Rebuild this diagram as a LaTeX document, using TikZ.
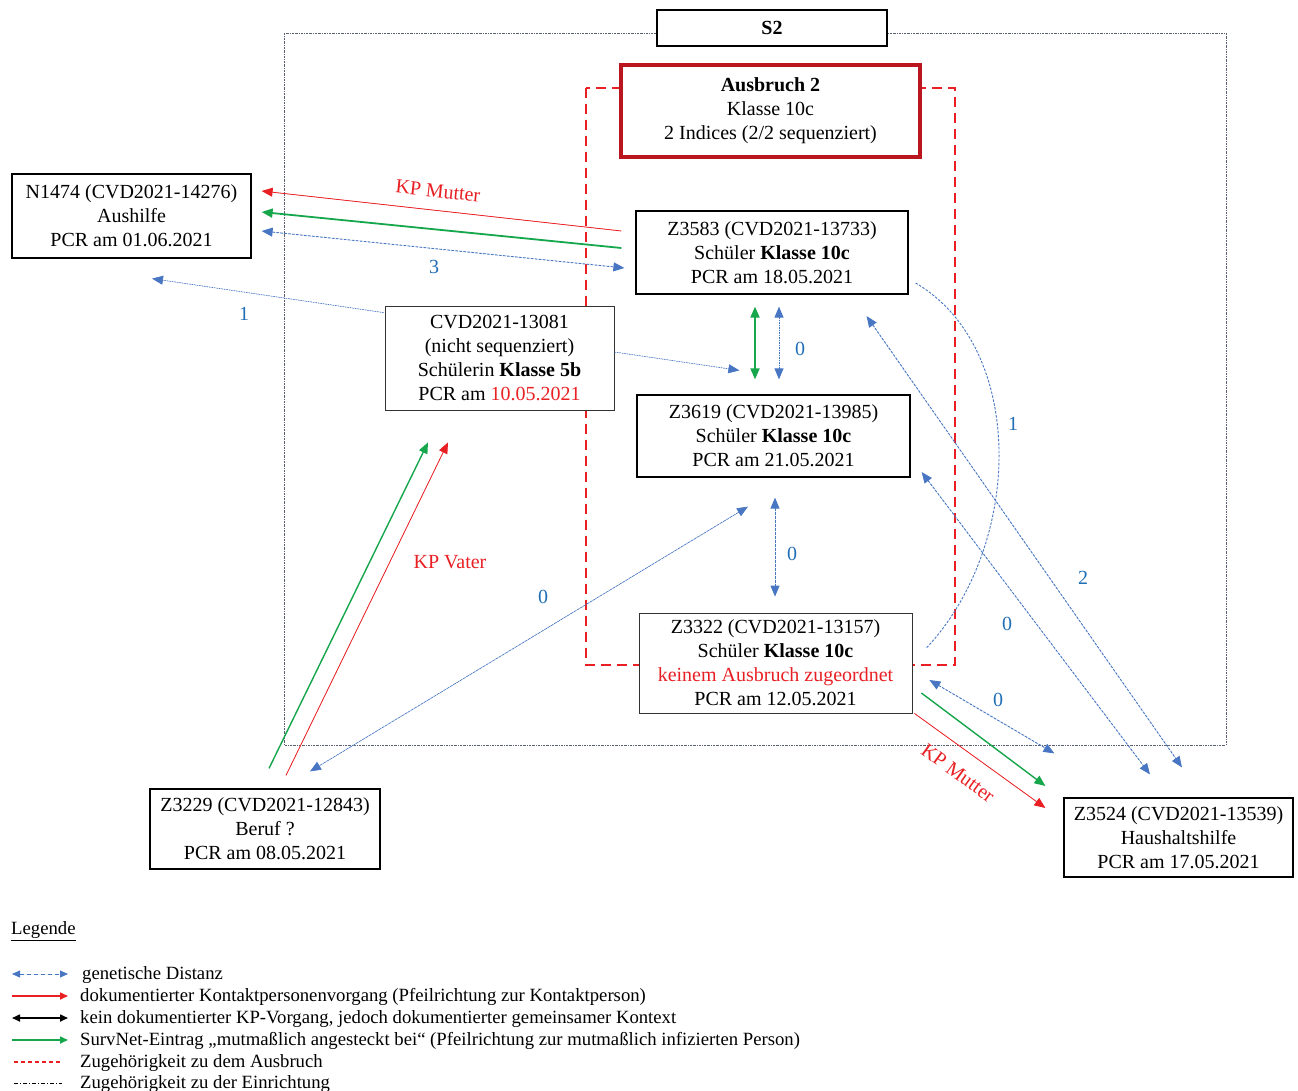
\documentclass[tikz,border=0pt]{standalone}
\usepackage{fontspec}
\setmainfont{Liberation Serif}
\usetikzlibrary{arrows.meta,calc}

\definecolor{kpred}{RGB}{232,32,36}
\definecolor{svgreen}{RGB}{22,166,76}
\definecolor{gdblue}{RGB}{72,118,194}
\definecolor{numblue}{RGB}{32,110,182}
\definecolor{obred}{RGB}{186,22,32}
\definecolor{framegray}{RGB}{90,95,115}

\tikzset{
  casebox/.style={draw=black, line width=1.2pt, fill=white, align=center, inner sep=0pt,
    font=\fontsize{20}{24}\selectfont},
  thinbox/.style={casebox, draw=black!80, line width=0.8pt},
  tip/.style={-{Triangle[length=11pt,width=9pt]}},
  tips/.style={{Triangle[length=11pt,width=9pt]}-{Triangle[length=11pt,width=9pt]}},
  gdist/.style={draw=gdblue, line width=0.9pt, dash pattern=on 2.5pt off 1.5pt, tips, fill=gdblue},
  gdone/.style={draw=gdblue, line width=0.9pt, dash pattern=on 2.5pt off 1.5pt, tip, fill=gdblue},
  kparrow/.style={draw=kpred, line width=0.8pt, tip, fill=kpred},
  svarrow/.style={draw=svgreen, line width=1.8pt, tip, fill=svgreen},
  numlabel/.style={text=numblue, font=\fontsize{20}{24}\selectfont},
  redlabel/.style={text=kpred, font=\fontsize{20}{24}\selectfont},
  legtext/.style={anchor=west, inner sep=0pt, font=\fontsize{18.7}{22}\selectfont},
  legtip/.tip={Triangle[length=8pt,width=7pt]},
}

\begin{document}
\begin{tikzpicture}[x=1pt,y=-1pt]
\useasboundingbox (0,0) rectangle (1298,1091);

% facility frame and outbreak frame
\draw[framegray, line width=0.7pt, dash pattern=on 2pt off 1pt on 0.6pt off 1pt] (284,33) rectangle (1226,745);
\draw[kpred, line width=1.6pt, dash pattern=on 10pt off 6pt] (586,88) rectangle (955,665);

% header boxes
\node[casebox, minimum width=230pt, minimum height=36pt, font=\fontsize{20}{24}\selectfont\bfseries] (s2) at (772,28) {S2};
\node[casebox, draw=obred, line width=3.2pt, minimum width=299pt, minimum height=92pt] (ausbruch) at (770.5,111)
  {\textbf{Ausbruch 2}\\Klasse 10c\\2 Indices (2/2 sequenziert)};

% case boxes
\node[casebox, minimum width=239pt, minimum height=84pt] (n1474) at (131.5,216)
  {N1474 (CVD2021-14276)\\Aushilfe\\PCR am 01.06.2021};
\node[casebox, minimum width=272pt, minimum height=83pt] (z3583) at (772,252.5)
  {Z3583 (CVD2021-13733)\\Schüler \textbf{Klasse 10c}\\PCR am 18.05.2021};
\node[thinbox, minimum width=229pt, minimum height=104pt] (c13081) at (499.5,358)
  {CVD2021-13081\\(nicht sequenziert)\\Schülerin \textbf{Klasse 5b}\\PCR am \textcolor{kpred}{10.05.2021}};
\node[casebox, minimum width=273pt, minimum height=82pt] (z3619) at (773.5,436)
  {Z3619 (CVD2021-13985)\\Schüler \textbf{Klasse 10c}\\PCR am 21.05.2021};
\node[thinbox, minimum width=273pt, minimum height=100pt] (z3322) at (775.5,663)
  {Z3322 (CVD2021-13157)\\Schüler \textbf{Klasse 10c}\\\textcolor{kpred}{keinem Ausbruch zugeordnet}\\PCR am 12.05.2021};
\node[casebox, minimum width=230pt, minimum height=80pt] (z3229) at (265,829)
  {Z3229 (CVD2021-12843)\\Beruf ?\\PCR am 08.05.2021};
\node[casebox, minimum width=229pt, minimum height=79pt] (z3524) at (1178.5,837.5)
  {Z3524 (CVD2021-13539)\\Haushaltshilfe\\PCR am 17.05.2021};

% Z3583 <-> N1474
\draw[kparrow] ($(z3583.west)+(-14,-21.5)$) -- ($(n1474.east)+(10,-25)$);
\draw[svarrow] ($(z3583.west)+(-14,-4.5)$) -- ($(n1474.east)+(10,-4)$);
\draw[gdist] ($(n1474.east)+(10,15)$) -- ($(z3583.west)+(-11,15.5)$);
\node[redlabel, rotate=-6] (lkpm1) at (438,191) {KP Mutter};
\node[numlabel] (l3) at (434,267) {3};

% CVD2021-13081 links
\draw[gdone, line width=0.6pt, dash pattern=on 1.5pt off 1pt] ($(c13081.north west)+(-1,7)$) -- ($(n1474.south)+(20.5,20)$);
\node[numlabel] (l1a) at (244,314) {1};
\draw[gdone, line width=0.6pt, dash pattern=on 1.5pt off 1pt] ($(c13081.east)+(0,-6)$) -- ($(z3619.north west)+(103,-24)$);

% Z3583 <-> Z3619
\draw[svarrow, tips] ($(z3583.south)+(-17,12)$) -- ($(z3619.north)+(-18.5,-15)$);
\draw[gdist, dash pattern=on 1.5pt off 1pt] ($(z3583.south)+(7,12)$) -- ($(z3619.north)+(5.5,-15)$);
\node[numlabel] (l0a) at (800,349) {0};

% Z3619 <-> Z3322
\draw[gdist] ($(z3619.south)+(1.5,20)$) -- ($(z3322.north)+(-0.5,-16)$);
\node[numlabel] (l0b) at (792,554) {0};

% Z3229 links
\draw[gdist, line width=0.6pt, dash pattern=on 3pt off 0.8pt] ($(z3619.south)+(-25.5,29)$) -- ($(z3229.north)+(45,-17)$);
\node[numlabel] (l0c) at (543,597) {0};
\draw[svarrow, line width=1.4pt] ($(z3229.north)+(4,-20)$) -- ($(c13081.south)+(-71.5,32)$);
\draw[kparrow] ($(z3229.north)+(21,-13)$) -- ($(c13081.south)+(-51.5,32)$);
\node[redlabel] (lkpv) at (450,562) {KP Vater};

% Z3583 ~ Z3322
\draw[gdblue, line width=0.9pt, dash pattern=on 2.5pt off 1.5pt]
  ($(z3583.east)+(7,30.5)$) .. controls ($(z3583.east)+(117,95)$) and ($(z3322.east)+(112,-120)$) .. ($(z3322.east)+(14,-15)$);
\node[numlabel] (l1b) at (1013,424) {1};

% links to Z3524
\draw[gdist] ($(z3583.south east)+(-42,21.5)$) -- ($(z3524.north)+(3.5,-30)$);
\node[numlabel] (l2) at (1083,578) {2};
\draw[gdist] ($(z3619.east)+(11,36)$) -- ($(z3524.north)+(-28.5,-23)$);
\node[numlabel] (l0d) at (1007,624) {0};
\draw[gdist] ($(z3322.east)+(17,17)$) -- ($(z3524.north west)+(-9,-44)$);
\node[numlabel] (l0e) at (998,700) {0};
\draw[svarrow, line width=1.4pt] ($(z3322.east)+(9,30)$) -- ($(z3524.west)+(-18,-51.5)$);
\draw[kparrow] ($(z3322.south east)+(2,0)$) -- ($(z3524.west)+(-18,-29.5)$);
\node[redlabel, rotate=-36, inner sep=0pt] (lkpm2) at (958,773) {KP Mutter};

% legend
\node[legtext] (leg) at (11,931) {\underline{Legende}};
\coordinate (a1) at (12,974); \coordinate (b1) at (68,974);
\coordinate (a2) at (12,996); \coordinate (b2) at (68,996);
\coordinate (a3) at (12,1018); \coordinate (b3) at (68,1018);
\coordinate (a4) at (12,1040); \coordinate (b4) at (68,1040);
\coordinate (a5) at (14,1062); \coordinate (b5) at (62,1062);
\coordinate (a6) at (14,1083); \coordinate (b6) at (62,1083);
\draw[gdist, dash pattern=on 4pt off 3pt, legtip-legtip] (a1) -- (b1);
\draw[kparrow, line width=1.6pt, -legtip] (a2) -- (b2);
\draw[black, line width=1.6pt, fill=black, legtip-legtip] (a3) -- (b3);
\draw[svarrow, line width=1.6pt, -legtip] (a4) -- (b4);
\draw[kpred, line width=1.2pt, dash pattern=on 4pt off 3pt] (a5) -- (b5);
\draw[black, line width=0.9pt, dash pattern=on 4pt off 2pt on 1pt off 2pt] (a6) -- (b6);
\node[legtext] (t1) at (82,975) {genetische Distanz};
\node[legtext] (t2) at (80,997) {dokumentierter Kontaktpersonenvorgang (Pfeilrichtung zur Kontaktperson)};
\node[legtext] (t3) at (80,1019) {kein dokumentierter KP-Vorgang, jedoch dokumentierter gemeinsamer Kontext};
\node[legtext] (t4) at (80,1041) {SurvNet-Eintrag „mutmaßlich angesteckt bei“ (Pfeilrichtung zur mutmaßlich infizierten Person)};
\node[legtext] (t5) at (80,1063) {Zugehörigkeit zu dem Ausbruch};
\node[legtext] (t6) at (80,1084) {Zugehörigkeit zu der Einrichtung};
\end{tikzpicture}
\end{document}
